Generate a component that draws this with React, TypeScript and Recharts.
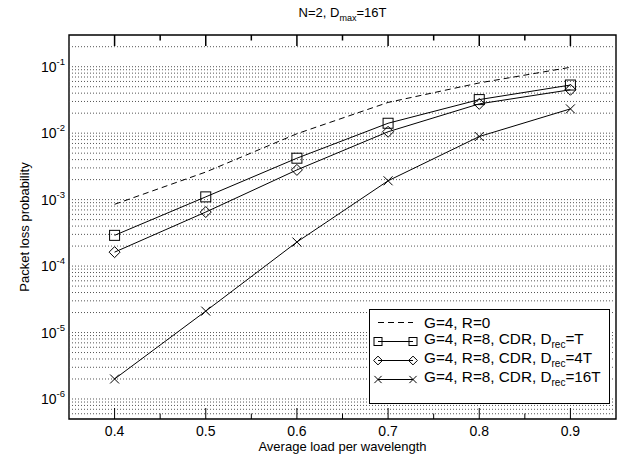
import React from "react";
import { LineChart, Line, XAxis, YAxis, ReferenceLine, ReferenceArea, Legend } from "recharts";

// average load per wavelength
const loads = [0.4, 0.5, 0.6, 0.7, 0.8, 0.9];

// packet loss probability per scheme
const lossNoRecirc = [8.5e-4, 2.6e-3, 9.8e-3, 2.9e-2, 5.7e-2, 9.8e-2];
const lossDrecT = [2.9e-4, 1.1e-3, 4.2e-3, 1.41e-2, 3.2e-2, 5.3e-2];
const lossDrec4T = [1.62e-4, 6.5e-4, 2.8e-3, 1.05e-2, 2.76e-2, 4.5e-2];
const lossDrec16T = [2.0e-6, 2.1e-5, 2.3e-4, 1.92e-3, 8.9e-3, 2.32e-2];

const xTicks = [0.4, 0.45, 0.5, 0.55, 0.6, 0.65, 0.7, 0.75, 0.8, 0.85, 0.9];
const yTicks = [1e-6, 1e-5, 1e-4, 1e-3, 1e-2, 1e-1];
const yDomain: [number, number] = [5e-7, 0.3];
const xDomain: [number, number] = [0.35, 0.95];

const gridMantissas = [1, 2, 3, 4, 5, 6, 7, 8, 9];
const gridDecades = [-7, -6, -5, -4, -3, -2, -1];
const gridValues = gridDecades
  .flatMap((d) => gridMantissas.map((m) => Number((m * Math.pow(10, d)).toPrecision(3))))
  .filter((v) => v > yDomain[0] * 1.001 && v < yDomain[1] * 0.999);

const data = loads.map((load, i) => ({
  load,
  r0: lossNoRecirc[i],
  t1: lossDrecT[i],
  t4: lossDrec4T[i],
  t16: lossDrec16T[i],
}));

const FONT = "'Liberation Sans', Arial, Helvetica, sans-serif";

// inward tick lengths on the top edge, expressed as a ratio on the log scale
// (plot is ~66.5 px per decade)
const MAJOR_TOP = Math.pow(10, 11 / 66.5);
const MINOR_TOP = Math.pow(10, 5.5 / 66.5);

function Marker({ kind, cx, cy, s }: { kind: string; cx: number; cy: number; s: number }) {
  if (kind === "square")
    return <rect x={cx - s} y={cy - s} width={2 * s} height={2 * s} fill="none" stroke="#000" strokeWidth={1} />;
  if (kind === "diamond")
    return (
      <polygon
        points={`${cx},${cy - s * 1.1} ${cx + s * 1.1},${cy} ${cx},${cy + s * 1.1} ${cx - s * 1.1},${cy}`}
        fill="none"
        stroke="#000"
        strokeWidth={1}
      />
    );
  if (kind === "x") {
    const h = s * 0.9;
    return (
      <g stroke="#000" strokeWidth={1}>
        <line x1={cx - h} y1={cy - h} x2={cx + h} y2={cy + h} />
        <line x1={cx - h} y1={cy + h} x2={cx + h} y2={cy - h} />
      </g>
    );
  }
  return null;
}

const series = [
  { key: "r0", marker: "none", dash: "6 4", label: "G=4, R=0", sub: "", tail: "" },
  { key: "t1", marker: "square", dash: undefined, label: "G=4, R=8, CDR, D", sub: "rec", tail: "=T" },
  { key: "t4", marker: "diamond", dash: undefined, label: "G=4, R=8, CDR, D", sub: "rec", tail: "=4T" },
  { key: "t16", marker: "x", dash: undefined, label: "G=4, R=8, CDR, D", sub: "rec", tail: "=16T" },
];

const isMajor = (v: number) => Math.abs(v * 10 - Math.round(v * 10)) < 1e-6;

function BottomTick({ x, y, payload }: any) {
  const v = payload.value;
  const len = isMajor(v) ? 11 : 5.5;
  return (
    <g>
      <line x1={x} y1={y} x2={x} y2={y - len} stroke="#000" strokeWidth={1} />
      {isMajor(v) && (
        <text x={x} y={y + 17} textAnchor="middle" fontSize={14} fontFamily={FONT} fill="#000">
          {v.toFixed(1)}
        </text>
      )}
    </g>
  );
}

function LogTick({ x, y, payload }: any) {
  const exp = Math.round(Math.log10(payload.value));
  return (
    <text x={x} y={y + 5} textAnchor="end" fontSize={14} fontFamily={FONT} fill="#000">
      10
      <tspan dy={-7} fontSize={9.5}>
        {exp}
      </tspan>
    </text>
  );
}

function LegendBox() {
  return (
    <div
      style={{
        width: 241,
        height: 95,
        boxSizing: "border-box",
        border: "1px solid #000",
        background: "#fff",
        paddingTop: 3,
        fontFamily: FONT,
        fontSize: 15.3,
        color: "#000",
      }}
    >
      {series.map((s) => (
        <div key={s.key} style={{ height: 19, display: "flex", alignItems: "center" }}>
          <svg width={54} height={19} style={{ flex: "none" }}>
            <line x1={8} y1={9.5} x2={43} y2={9.5} stroke="#000" strokeWidth={1} strokeDasharray={s.dash} />
            <Marker kind={s.marker} cx={8} cy={9.5} s={4} />
            <Marker kind={s.marker} cx={43} cy={9.5} s={4} />
          </svg>
          <span style={{ whiteSpace: "nowrap", lineHeight: "19px" }}>
            {s.label}
            {s.sub && <sub style={{ fontSize: 10, verticalAlign: "-4px" }}>{s.sub}</sub>}
            {s.tail}
          </span>
        </div>
      ))}
    </div>
  );
}

export default function App() {
  return (
    <div style={{ position: "absolute", left: 0, top: 0, width: 626, height: 462, background: "#fff" }}>
      <LineChart width={626} height={462} data={data} margin={{ top: 35, right: 10, left: 0, bottom: 0 }}>
        <XAxis
          dataKey="load"
          type="number"
          domain={xDomain}
          ticks={xTicks}
          interval={0}
          height={43}
          axisLine={false}
          tickLine={false}
          tickSize={0}
          tickMargin={0}
          tick={<BottomTick />}
          allowDataOverflow
          label={(p: any) => {
            const vb = p.viewBox;
            return (
              <text x={vb.x + vb.width / 2} y={vb.y + 32} textAnchor="middle" fontSize={13} fontFamily={FONT} fill="#000">
                Average load per wavelength
              </text>
            );
          }}
        />
        <YAxis
          scale="log"
          type="number"
          domain={yDomain}
          ticks={yTicks}
          interval={0}
          width={69}
          axisLine={false}
          tickLine={false}
          tickSize={0}
          tickMargin={4}
          tick={<LogTick />}
          allowDataOverflow
          label={(p: any) => {
            const vb = p.viewBox;
            const cx = vb.x + 24;
            const cy = vb.y + vb.height / 2;
            return (
              <text x={cx} y={cy} transform={`rotate(-90 ${cx} ${cy})`} textAnchor="middle" dominantBaseline="central" fontSize={13} fontFamily={FONT} fill="#000">
                Packet loss probability
              </text>
            );
          }}
        />
        {gridValues.map((v) => (
          <ReferenceLine key={v} y={v} stroke="#555" strokeDasharray="1 2" strokeWidth={1} ifOverflow="hidden" />
        ))}
        {xTicks.map((v) => (
          <ReferenceLine
            key={`top-${v}`}
            segment={[
              { x: v, y: yDomain[1] },
              { x: v, y: yDomain[1] / (isMajor(v) ? MAJOR_TOP : MINOR_TOP) },
            ]}
            stroke="#000"
            strokeWidth={1.5}
            ifOverflow="visible"
          />
        ))}
        <ReferenceArea
          x1={xDomain[0]}
          x2={xDomain[1]}
          y1={yDomain[0]}
          y2={yDomain[1]}
          fill="none"
          stroke="#000"
          strokeWidth={1.4}
          ifOverflow="visible"
          label={(p: any) => {
            const vb = p.viewBox;
            return (
              <text x={vb.x + vb.width / 2} y={vb.y - 18} textAnchor="middle" fontSize={13} fontFamily={FONT} fill="#000">
                N=2, D
                <tspan dy={4} fontSize={9}>max</tspan>
                <tspan dy={-4}>=16T</tspan>
              </text>
            );
          }}
        />
        {series.map((s) => (
          <Line
            key={s.key}
            dataKey={s.key}
            stroke="#000"
            strokeWidth={1}
            strokeDasharray={s.dash}
            isAnimationActive={false}
            dot={
              s.marker === "none"
                ? false
                : (p: any) => <Marker key={`${s.key}-${p.index}`} kind={s.marker} cx={p.cx} cy={p.cy} s={5} />
            }
            activeDot={false}
          />
        ))}
        <Legend
          layout="vertical"
          align="center"
          verticalAlign="middle"
          wrapperStyle={{ left: 369, top: 309, width: 241 }}
          content={() => <LegendBox />}
        />
      </LineChart>
    </div>
  );
}
